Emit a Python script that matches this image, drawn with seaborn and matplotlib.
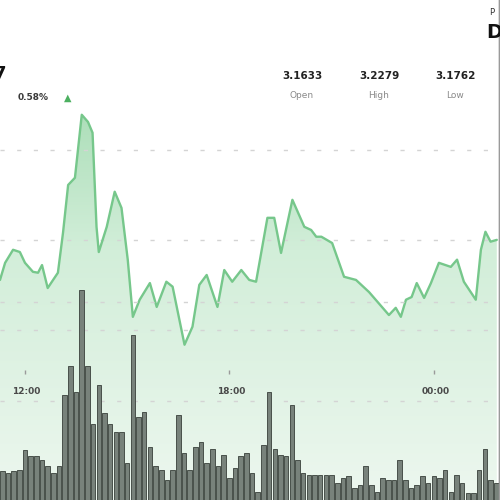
#!/usr/bin/env python3

import numpy as np
import matplotlib as mpl
mpl.use("Agg")
from matplotlib import pyplot as plt
from matplotlib.colors import LinearSegmentedColormap
import seaborn as sns
sns.set_theme(style="white")
plt.rcParams['font.family'] = ['DejaVu Sans']

import pandas as pd

# price trace: minutes after 12:00, price
price_minutes = [-44, -35, -21, -9, 0, 14, 23, 30, 40, 58, 67, 76, 88, 100, 111, 119,
                 126, 130, 144, 158, 170, 181, 190, 202, 220, 232, 249, 260, 281, 295,
                 307, 320, 339, 351, 365, 381, 395, 407, 427, 439, 451, 471, 492, 504,
                 513, 522, 541, 562, 583, 606, 641, 653, 662, 671, 681, 690, 703, 715,
                 729, 750, 761, 773, 794, 803, 811, 820, 831]
price_values = [3.1911, 3.1949, 3.1978, 3.1973, 3.1949, 3.1929, 3.1927, 3.1944, 3.1893,
                3.1927, 3.2016, 3.2122, 3.2138, 3.2278, 3.2262, 3.2238, 3.2029, 3.1973,
                3.2029, 3.2107, 3.2071, 3.1956, 3.1829, 3.1867, 3.1904, 3.1851, 3.1907,
                3.1896, 3.1767, 3.1807, 3.1900, 3.1922, 3.1851, 3.1933, 3.1907, 3.1933,
                3.1911, 3.1907, 3.2049, 3.2049, 3.1971, 3.2089, 3.2029, 3.2022, 3.2007,
                3.2007, 3.1993, 3.1918, 3.1911, 3.1884, 3.1833, 3.1849, 3.1829, 3.1867,
                3.1873, 3.1904, 3.1871, 3.1904, 3.1949, 3.1940, 3.1956, 3.1907, 3.1867,
                3.1978, 3.2018, 3.1996, 3.2000]

# 10 minute volume bars (millions)
volume_minutes = list(range(-40, 831, 10))
volume_values = [0.29, 0.27, 0.29, 0.30, 0.51, 0.44, 0.44, 0.40, 0.34, 0.27,
                 0.34, 1.06, 1.35, 1.09, 2.12, 1.35, 0.77, 1.16, 0.88, 0.77,
                 0.69, 0.69, 0.37, 1.67, 0.84, 0.89, 0.54, 0.34, 0.30, 0.20,
                 0.30, 0.86, 0.47, 0.30, 0.54, 0.59, 0.37, 0.52, 0.34, 0.45,
                 0.22, 0.32, 0.44, 0.47, 0.27, 0.08, 0.56, 1.09, 0.52, 0.45,
                 0.44, 0.96, 0.40, 0.27, 0.25, 0.25, 0.25, 0.25, 0.25, 0.17,
                 0.22, 0.24, 0.12, 0.15, 0.34, 0.15, 0.08, 0.22, 0.20, 0.20,
                 0.40, 0.20, 0.12, 0.15, 0.24, 0.17, 0.24, 0.22, 0.30, 0.08,
                 0.25, 0.17, 0.07, 0.07, 0.30, 0.52, 0.20, 0.17]

tick_minutes = [0, 360, 720]
tick_labels = ['12:00', '18:00', '00:00']
price_grid = [3.18, 3.20, 3.22]
volume_grid = [1, 2]
stat_values = ['3.1633', '3.2279', '3.1762']
stat_names = ['Open', 'High', 'Low']
change_text = '0.58%'

prices = pd.DataFrame({'minute': price_minutes, 'price': price_values})
volumes = pd.DataFrame({'minute': volume_minutes, 'volume': volume_values})

x_lo, x_hi = -44, 834
p_lo, p_hi = 3.1422, 3.2533

fig = plt.figure(figsize=(5, 5), dpi=100)
ax = fig.add_axes([0, 0, 0.997, 1])
ax.set_xlim(x_lo, x_hi)
ax.set_ylim(p_lo, p_hi)

# gradient area under the price line
fill = ax.fill_between(prices['minute'], prices['price'], p_lo, color='none', lw=0)
cmap = LinearSegmentedColormap.from_list('area', ['#edf7ef', '#d2eed9', '#8fd2a0'])
grad = np.linspace(0, 1, 256)[:, None]
img = ax.imshow(grad, cmap=cmap, aspect='auto', origin='lower',
                extent=[x_lo, x_hi, p_lo, p_hi], zorder=1)
img.set_clip_path(fill.get_paths()[0], transform=ax.transData)

sns.lineplot(data=prices, x='minute', y='price', ax=ax, color='#76c78b', linewidth=1.7, zorder=3)
ax.set_xlim(x_lo, x_hi)
ax.set_ylim(p_lo, p_hi)

ax.set_yticks(price_grid)
ax.set_xticks([])
ax.yaxis.grid(True, linestyle=(0, (3, 9)), color='#d4d4d4', linewidth=1)
ax.set_axisbelow(False)
ax.tick_params(left=False, labelleft=False, bottom=False)
ax.set_xlabel('')
ax.set_ylabel('')

# volume
axv = ax.twinx()
sns.barplot(data=volumes, x='minute', y='volume', ax=axv, native_scale=True, width=0.8,
            color='#78827b', edgecolor='#48504a', linewidth=0.7, saturation=1,
            errorbar=None, zorder=2)
axv.set_xlim(x_lo, x_hi)
axv.set_ylim(0, 5.05)
axv.set_yticks(volume_grid)
axv.yaxis.grid(True, linestyle=(0, (3, 9)), color='#d4d4d4', linewidth=1)
axv.set_axisbelow(True)
axv.tick_params(right=False, labelright=False, bottom=False, labelbottom=False)
axv.set_xlabel('')
axv.set_ylabel('')

for a in (ax, axv):
    for side in ('top', 'left', 'bottom'):
        a.spines[side].set_visible(False)
    a.spines['right'].set_color('#9a9a9a')
    a.spines['right'].set_linewidth(1)

# time labels
xt = ax.get_xaxis_transform()
for m, lab in zip(tick_minutes, tick_labels):
    ax.plot([m], [0.256], marker='|', markersize=2.5, color='#9a9a9a', transform=xt, zorder=4)
    ax.text(m + 3, 0.218, lab, transform=xt, ha='center', va='center', fontsize=6.5,
            fontweight='bold', color='#4a4a4a', zorder=4)

# header
fig.text(-0.012, 0.852, '7', fontsize=13, fontweight='bold', color='#111111', ha='left', va='center')
fig.text(0.036, 0.806, change_text, fontsize=6.5, fontweight='bold', color='#3a3a3a', ha='left', va='center')
fig.text(0.136, 0.804, '\u25b2', fontsize=7, color='#4cb060', ha='center', va='center')
for cx, v, n in zip([0.604, 0.758, 0.910], stat_values, stat_names):
    fig.text(cx, 0.848, v, fontsize=7.5, fontweight='bold', color='#222222', ha='center', va='center')
    fig.text(cx, 0.810, n, fontsize=6.5, color='#8a8a8a', ha='center', va='center')
fig.text(0.978, 0.975, 'P', fontsize=6, color='#333333', ha='left', va='center')
fig.text(0.972, 0.935, 'D', fontsize=14, fontweight='bold', color='#111111', ha='left', va='center')

fig.savefig('out.png', dpi=100)
